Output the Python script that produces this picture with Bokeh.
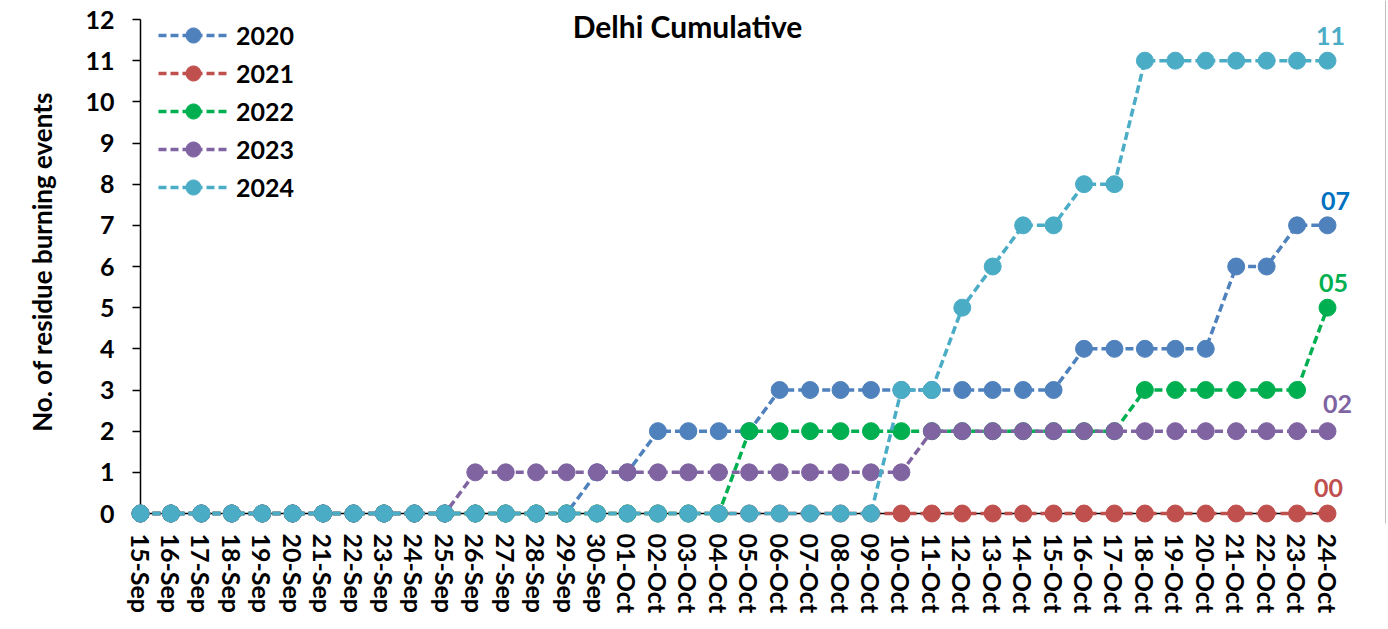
from bokeh.plotting import figure
from bokeh.models import (Range1d, FixedTicker, Legend, LegendItem, Label, LinearAxis,
                          ColumnDataSource, Span)
from bokeh.embed import file_html
from bokeh.resources import INLINE

# ---------------- data ----------------
dates = ["15-Sep", "16-Sep", "17-Sep", "18-Sep", "19-Sep", "20-Sep", "21-Sep", "22-Sep",
         "23-Sep", "24-Sep", "25-Sep", "26-Sep", "27-Sep", "28-Sep", "29-Sep", "30-Sep",
         "01-Oct", "02-Oct", "03-Oct", "04-Oct", "05-Oct", "06-Oct", "07-Oct", "08-Oct",
         "09-Oct", "10-Oct", "11-Oct", "12-Oct", "13-Oct", "14-Oct", "15-Oct", "16-Oct",
         "17-Oct", "18-Oct", "19-Oct", "20-Oct", "21-Oct", "22-Oct", "23-Oct", "24-Oct"]

y2020 = [0, 0, 0, 0, 0, 0, 0, 0, 0, 0, 0, 0, 0, 0, 0, 1, 1, 2, 2, 2,
         2, 3, 3, 3, 3, 3, 3, 3, 3, 3, 3, 4, 4, 4, 4, 4, 6, 6, 7, 7]
y2021 = [0, 0, 0, 0, 0, 0, 0, 0, 0, 0, 0, 0, 0, 0, 0, 0, 0, 0, 0, 0,
         0, 0, 0, 0, 0, 0, 0, 0, 0, 0, 0, 0, 0, 0, 0, 0, 0, 0, 0, 0]
y2022 = [0, 0, 0, 0, 0, 0, 0, 0, 0, 0, 0, 0, 0, 0, 0, 0, 0, 0, 0, 0,
         2, 2, 2, 2, 2, 2, 2, 2, 2, 2, 2, 2, 2, 3, 3, 3, 3, 3, 3, 5]
y2023 = [0, 0, 0, 0, 0, 0, 0, 0, 0, 0, 0, 1, 1, 1, 1, 1, 1, 1, 1, 1,
         1, 1, 1, 1, 1, 1, 2, 2, 2, 2, 2, 2, 2, 2, 2, 2, 2, 2, 2, 2]
y2024 = [0, 0, 0, 0, 0, 0, 0, 0, 0, 0, 0, 0, 0, 0, 0, 0, 0, 0, 0, 0,
         0, 0, 0, 0, 0, 3, 3, 5, 6, 7, 7, 8, 8, 11, 11, 11, 11, 11, 11, 11]

series_names = ["2020", "2021", "2022", "2023", "2024"]
series_values = [y2020, y2021, y2022, y2023, y2024]
series_colors = ["#4F81BD", "#C0504D", "#00B050", "#8064A2", "#4BACC6"]
end_label_colors = ["#0070C0", "#C0504D", "#00B050", "#8064A2", "#4BACC6"]

title_text = "Delhi Cumulative"
y_title = "No. of residue burning events"
y_ticks = [0, 1, 2, 3, 4, 5, 6, 7, 8, 9, 10, 11, 12]
y_max = 12

FONT = "Lato"

# ---------------- geometry ----------------
FRAME_W, FRAME_H = 1258, 523
PX_X = 1187 / 39.0      # pixels per category step
PX_Y = 494 / 12.0       # pixels per unit
x0 = -10.0 / PX_X
y0 = -10.0 / PX_Y

xs = list(range(len(dates)))
p = figure(frame_width=FRAME_W, frame_height=FRAME_H,
           min_border_left=130, min_border_right=0, min_border_top=0, min_border_bottom=106,
           x_range=Range1d(x0, x0 + FRAME_W / PX_X), y_range=Range1d(y0, y0 + FRAME_H / PX_Y),
           output_backend="svg", toolbar_location=None, tools="")
p.outline_line_color = None
p.xgrid.visible = False
p.ygrid.visible = False
p.background_fill_color = "white"
p.border_fill_color = "white"

# axis lines + tick marks, fixed through the zero point (no labels: minor ticks only)
xa = p.xaxis[0]
xa.ticker = FixedTicker(ticks=[], minor_ticks=xs)
xa.fixed_location = 0
xa.bounds = (0, len(dates) - 1)
xa.axis_line_color = "black"
xa.axis_line_width = 1.5
xa.major_tick_out = 0
xa.major_tick_in = 0
xa.minor_tick_out = 5
xa.minor_tick_in = 0
xa.minor_tick_line_color = "black"
xa.minor_tick_line_width = 1.5
xa.level = "underlay"

ya = p.yaxis[0]
ya.ticker = FixedTicker(ticks=[], minor_ticks=y_ticks)
ya.fixed_location = 0
ya.bounds = (0, y_max)
ya.axis_line_color = "black"
ya.axis_line_width = 1.5
ya.major_tick_out = 0
ya.major_tick_in = 0
ya.minor_tick_out = 8
ya.minor_tick_in = 0
ya.minor_tick_line_color = "black"
ya.minor_tick_line_width = 1.5
ya.level = "underlay"

# label-only axes
xl = LinearAxis(ticker=FixedTicker(ticks=xs, minor_ticks=[]),
                major_label_overrides={i: d for i, d in zip(xs, dates)},
                major_label_orientation="vertical",
                axis_line_color=None, major_tick_line_color=None, minor_tick_line_color=None,
                major_tick_out=0, major_tick_in=0, minor_tick_out=0, minor_tick_in=0,
                major_label_standoff=10,
                major_label_text_font=FONT, major_label_text_font_style="bold",
                major_label_text_font_size="25px", major_label_text_color="black")
p.add_layout(xl, "below")

yl = LinearAxis(ticker=FixedTicker(ticks=y_ticks, minor_ticks=[]),
                axis_line_color=None, major_tick_line_color=None, minor_tick_line_color=None,
                major_tick_out=0, major_tick_in=0, minor_tick_out=0, minor_tick_in=0,
                major_label_standoff=16,
                major_label_text_font=FONT, major_label_text_font_style="bold",
                major_label_text_font_size="25px", major_label_text_color="black",
                axis_label=y_title, axis_label_text_font=FONT,
                axis_label_text_font_style="bold", axis_label_text_font_size="26px",
                axis_label_text_color="black", axis_label_standoff=24)
p.add_layout(yl, "left")

# series
items = []
for name, vals, col in zip(series_names, series_values, series_colors):
    src = ColumnDataSource(dict(x=xs, y=vals))
    lr = p.line("x", "y", source=src, line_color=col, line_width=3.5, line_dash="8 4")
    sr = p.scatter("x", "y", source=src, size=17, fill_color=col, line_color=col)
    items.append(LegendItem(label=name, renderers=[lr, sr]))

legend = Legend(items=items, location=(28, 317), orientation="vertical",
                glyph_width=70, glyph_height=38, label_height=38, spacing=0,
                label_standoff=8, padding=0, margin=0,
                label_text_font=FONT, label_text_font_style="bold",
                label_text_font_size="25px", label_text_color="black",
                border_line_color=None, background_fill_alpha=0)
p.add_layout(legend, "center")

# end-of-series labels
offsets = {"2020": (8, 24), "2021": (1, 26), "2022": (6, 25), "2023": (10, 27), "2024": (3, 25)}
last_x = xs[-1]
for name, vals, col in zip(series_names, series_values, end_label_colors):
    dx, dy = offsets[name]
    p.add_layout(Label(x=last_x, y=vals[-1], x_offset=dx, y_offset=dy,
                       text="%02d" % vals[-1], text_align="center", text_baseline="middle",
                       text_font=FONT, text_font_style="bold", text_font_size="25px",
                       text_color=col))

# chart-area border on the right edge
p.add_layout(Span(location=FRAME_W - 3, location_units="screen", dimension="height",
                  line_color="#BFBFBF", line_width=1))

# title
p.add_layout(Label(x=557, y=FRAME_H - 25, x_units="screen", y_units="screen", text=title_text,
                   text_align="center", text_baseline="alphabetic",
                   text_font=FONT, text_font_style="bold", text_font_size="30px",
                   text_color="black"))

open("out.html", "w").write(file_html(p, INLINE))
